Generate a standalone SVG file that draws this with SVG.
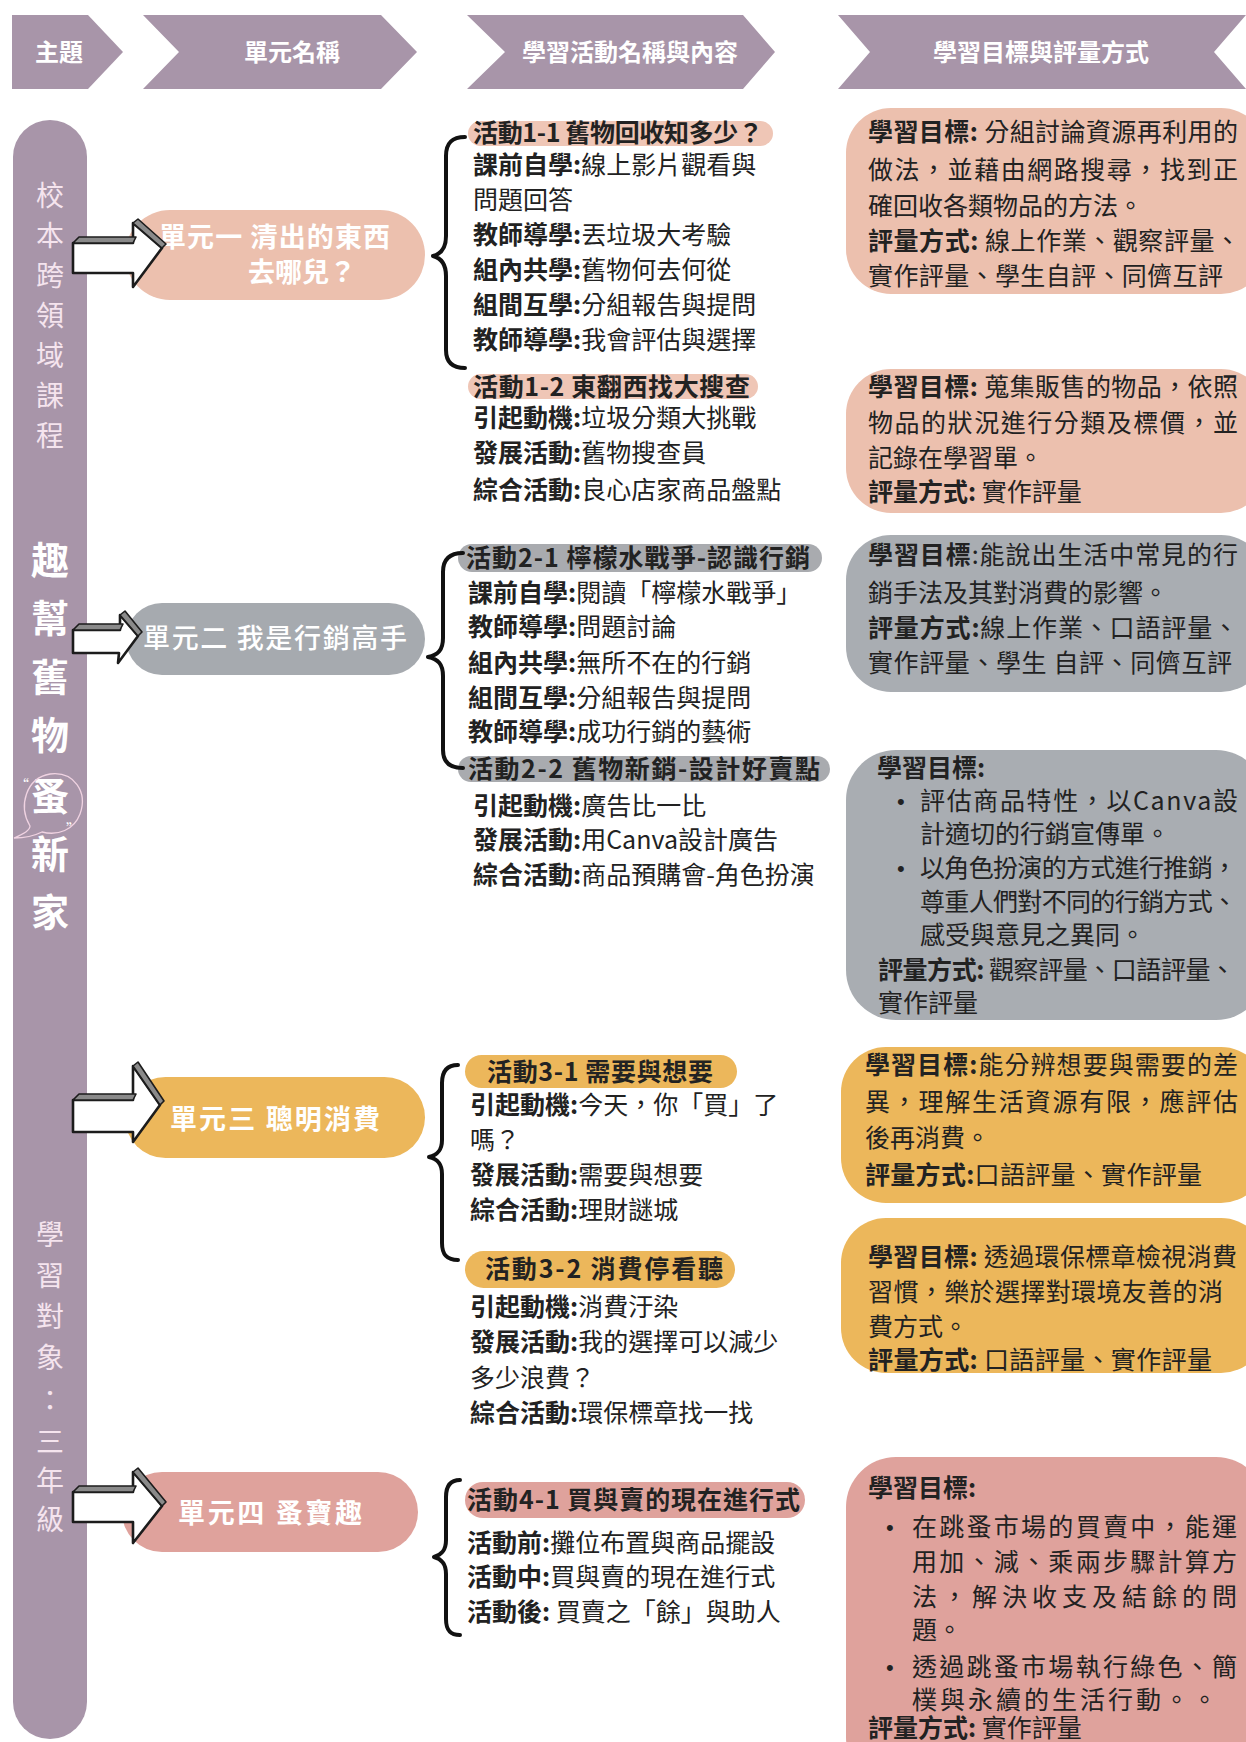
<svg xmlns="http://www.w3.org/2000/svg" width="1246" height="1742" viewBox="0 0 1246 1742">
<style>
text{font-family:'Noto Sans CJK TC','Noto Sans CJK SC',sans-serif;}
.hd{font-size:24px;font-weight:700;fill:#fff;text-anchor:middle}
.t{font-size:25px;fill:#222}
.b{font-weight:700}
.bul{font-family:'Liberation Sans',Arial,sans-serif;font-size:22px;fill:#222}
.unit{font-size:27px;font-weight:700;fill:#fff}
.bar1{font-size:28px;fill:#f5e4ee;text-anchor:middle}
.bar2{font-size:38px;font-weight:700;fill:#fff;text-anchor:middle}
.mauve{fill:#a895a9}
.peach{fill:#ecc0ae}
.gray{fill:#a9adb2}
.orange{fill:#ecb75b}
.rose{fill:#dfa29c}
.arrow{fill:#fff;stroke:#1c1c1c;stroke-width:2.6;stroke-linejoin:round}
.face{fill:#8a8a8a;stroke:#1c1c1c;stroke-width:1.6;stroke-linejoin:round}
.brace{fill:none;stroke:#111;stroke-width:4;stroke-linecap:round;stroke-linejoin:round}
</style>
<rect width="1246" height="1742" fill="#fff"/>

<g id="header">
<polygon class="mauve" points="12,15 88,15 123,52 88,89 12,89"/>
<polygon class="mauve" points="143,15 381,15 417,52 381,89 143,89 179,52"/>
<polygon class="mauve" points="467,15 743,15 775,52 743,89 467,89 505,52"/>
<polygon class="mauve" points="838,15 1246,15 1214,52 1246,89 838,89 870,52"/>
<text class="hd" x="59" y="61">主題</text>
<text class="hd" x="292" y="61">單元名稱</text>
<text class="hd" x="630" y="61">學習活動名稱與內容</text>
<text class="hd" x="1041" y="61">學習目標與評量方式</text>
</g>

<g id="theme-bar">
<rect class="mauve" x="13" y="120" width="74" height="1619" rx="37"/>
<text class="bar1"><tspan x="50" y="206">校</tspan><tspan x="50" y="246">本</tspan><tspan x="50" y="286">跨</tspan><tspan x="50" y="326">領</tspan><tspan x="50" y="366">域</tspan><tspan x="50" y="406">課</tspan><tspan x="50" y="446">程</tspan></text>
<text class="bar2"><tspan x="50" y="574">趣</tspan><tspan x="50" y="632">幫</tspan><tspan x="50" y="691">舊</tspan><tspan x="50" y="749">物</tspan><tspan x="50" y="810">蚤</tspan><tspan x="50" y="868">新</tspan><tspan x="50" y="926">家</tspan></text>
<path d="M30,826 C18,806 26,778 50,774 C74,771 88,792 80,814 C74,830 58,836 42,832 C34,836 24,838 14,838 C24,834 30,830 30,826 Z" fill="none" stroke="#f0d3e2" stroke-width="1.3"/>
<text x="22" y="790" font-size="14" fill="#fff" text-anchor="middle">“</text>
<text x="73" y="834" font-size="14" fill="#fff" text-anchor="middle">”</text>
<text class="bar1"><tspan x="50" y="1245">學</tspan><tspan x="50" y="1286">習</tspan><tspan x="50" y="1327">對</tspan><tspan x="50" y="1368">象</tspan><tspan x="50" y="1411">：</tspan><tspan x="50" y="1452">三</tspan><tspan x="50" y="1491">年</tspan><tspan x="50" y="1530">級</tspan></text>
</g>

<g id="unit1">
<rect class="peach" x="125" y="210" width="300" height="90" rx="45"/>
<text class="unit" x="159" y="247" textLength="231">單元一 清出的東西</text>
<text class="unit" x="248" y="282">去哪兒？</text>
</g>

<g id="unit2">
<rect fill="#a6aaaf" x="126" y="603" width="299" height="72" rx="36"/>
<text class="unit" style="font-weight:500" x="143" y="648" textLength="264">單元二 我是行銷高手</text>
</g>

<g id="unit3">
<rect class="orange" x="125" y="1077" width="300" height="81" rx="40.5"/>
<text class="unit" x="170" y="1129" textLength="210">單元三 聰明消費</text>
</g>

<g id="unit4">
<rect class="rose" x="122" y="1472" width="296" height="80" rx="40"/>
<text class="unit" x="178" y="1523" textLength="184">單元四 蚤寶趣</text>
</g>

<g id="activities1">
<rect fill="#efc6b6" x="468" y="121" width="305" height="25" rx="12.5"/>
<text class="t b" x="473" y="142" textLength="290">活動1-1 舊物回收知多少？</text>
<text class="t" x="473" y="174"><tspan class="b">課前自學:</tspan>線上影片觀看與</text>
<text class="t" x="473" y="209">問題回答</text>
<text class="t" x="473" y="244"><tspan class="b">教師導學:</tspan>丟垃圾大考驗</text>
<text class="t" x="473" y="279"><tspan class="b">組內共學:</tspan>舊物何去何從</text>
<text class="t" x="473" y="314"><tspan class="b">組間互學:</tspan>分組報告與提問</text>
<text class="t" x="473" y="349"><tspan class="b">教師導學:</tspan>我會評估與選擇</text>
<rect fill="#efc6b6" x="468" y="374" width="290" height="25" rx="12.5"/>
<text class="t b" x="473" y="396" textLength="277">活動1-2 東翻西找大搜查</text>
<text class="t" x="473" y="427"><tspan class="b">引起動機:</tspan>垃圾分類大挑戰</text>
<text class="t" x="473" y="462"><tspan class="b">發展活動:</tspan>舊物搜查員</text>
<text class="t" x="473" y="499"><tspan class="b">綜合活動:</tspan>良心店家商品盤點</text>
</g>

<g id="activities2">
<rect fill="#a9abaf" x="458" y="544" width="364" height="28" rx="14"/>
<text class="t b" x="466" y="567" textLength="344">活動2-1 檸檬水戰爭-認識行銷</text>
<text class="t" x="468" y="602"><tspan class="b">課前自學:</tspan>閱讀「檸檬水戰爭」</text>
<text class="t" x="468" y="636"><tspan class="b">教師導學:</tspan>問題討論</text>
<text class="t" x="468" y="672"><tspan class="b">組內共學:</tspan>無所不在的行銷</text>
<text class="t" x="468" y="707"><tspan class="b">組間互學:</tspan>分組報告與提問</text>
<text class="t" x="468" y="741"><tspan class="b">教師導學:</tspan>成功行銷的藝術</text>
<rect fill="#a9abaf" x="458" y="756" width="372" height="26" rx="13"/>
<text class="t b" x="468" y="778" textLength="352">活動2-2 舊物新銷-設計好賣點</text>
<text class="t" x="473" y="815"><tspan class="b">引起動機:</tspan>廣告比一比</text>
<text class="t" x="473" y="849"><tspan class="b">發展活動:</tspan>用Canva設計廣告</text>
<text class="t" x="473" y="884"><tspan class="b">綜合活動:</tspan>商品預購會-角色扮演</text>
</g>

<g id="activities3">
<rect class="orange" x="465" y="1055" width="272" height="33" rx="16.5"/>
<text class="t b" x="487" y="1081" textLength="226">活動3-1 需要與想要</text>
<text class="t" x="470" y="1114"><tspan class="b">引起動機:</tspan>今天，你「買」了</text>
<text class="t" x="470" y="1149">嗎？</text>
<text class="t" x="470" y="1184"><tspan class="b">發展活動:</tspan>需要與想要</text>
<text class="t" x="470" y="1219"><tspan class="b">綜合活動:</tspan>理財謎城</text>
<rect class="orange" x="465" y="1251" width="270" height="37" rx="18.5"/>
<text class="t b" x="485" y="1278" textLength="238">活動3-2  消費停看聽</text>
<text class="t" x="470" y="1316"><tspan class="b">引起動機:</tspan>消費汙染</text>
<text class="t" x="470" y="1351"><tspan class="b">發展活動:</tspan>我的選擇可以減少</text>
<text class="t" x="470" y="1387">多少浪費？</text>
<text class="t" x="470" y="1422"><tspan class="b">綜合活動:</tspan>環保標章找一找</text>
</g>

<g id="activities4">
<rect class="rose" x="465" y="1482" width="340" height="36" rx="18"/>
<text class="t b" x="467" y="1509" textLength="333">活動4-1 買與賣的現在進行式</text>
<text class="t" x="467" y="1552"><tspan class="b">活動前:</tspan>攤位布置與商品擺設</text>
<text class="t" x="467" y="1586"><tspan class="b">活動中:</tspan>買與賣的現在進行式</text>
<text class="t" x="467" y="1621"><tspan class="b">活動後:</tspan> 買賣之「餘」與助人</text>
</g>

<g id="goal1">
<rect class="peach" x="846" y="108" width="420" height="186" rx="45"/>
<text class="t" x="868" y="141" textLength="370"><tspan class="b">學習目標:</tspan> 分組討論資源再利用的</text>
<text class="t" x="868" y="179" textLength="370">做法，並藉由網路搜尋，找到正</text>
<text class="t" x="868" y="215">確回收各類物品的方法。</text>
<text class="t" x="868" y="250" textLength="372"><tspan class="b">評量方式:</tspan> 線上作業、觀察評量、</text>
<text class="t" x="868" y="285" textLength="355">實作評量、學生自評、同儕互評</text>
</g>

<g id="goal2">
<rect class="peach" x="846" y="369" width="420" height="144" rx="45"/>
<text class="t" x="868" y="396" textLength="370"><tspan class="b">學習目標:</tspan> 蒐集販售的物品，依照</text>
<text class="t" x="868" y="432" textLength="370">物品的狀況進行分類及標價，並</text>
<text class="t" x="868" y="467">記錄在學習單。</text>
<text class="t" x="868" y="501"><tspan class="b">評量方式:</tspan> 實作評量</text>
</g>

<g id="goal3">
<rect class="gray" x="846" y="535" width="420" height="157" rx="45"/>
<text class="t" x="868" y="564" textLength="370"><tspan class="b">學習目標</tspan>:能說出生活中常見的行</text>
<text class="t" x="868" y="602">銷手法及其對消費的影響。</text>
<text class="t" x="868" y="637" textLength="370"><tspan class="b">評量方式:</tspan>線上作業、口語評量、</text>
<text class="t" x="868" y="672" textLength="364">實作評量、學生 自評、同儕互評</text>
</g>

<g id="goal4">
<rect class="gray" x="846" y="750" width="420" height="270" rx="50"/>
<text class="t b" x="877" y="777">學習目標:</text>
<text class="bul" x="897" y="809">•</text>
<text class="t" x="920" y="810" textLength="318">評估商品特性，以Canva設</text>
<text class="t" x="920" y="843">計適切的行銷宣傳單。</text>
<text class="bul" x="897" y="876">•</text>
<text class="t" x="920" y="877" textLength="317">以角色扮演的方式進行推銷，</text>
<text class="t" x="920" y="911" textLength="317">尊重人們對不同的行銷方式、</text>
<text class="t" x="920" y="944">感受與意見之異同。</text>
<text class="t" x="878" y="979" textLength="357"><tspan class="b">評量方式:</tspan> 觀察評量、口語評量、</text>
<text class="t" x="878" y="1012">實作評量</text>
</g>

<g id="goal5">
<rect class="orange" x="841" y="1047" width="425" height="156" rx="45"/>
<text class="t" x="865" y="1074" textLength="373"><tspan class="b">學習目標:</tspan>能分辨想要與需要的差</text>
<text class="t" x="865" y="1111" textLength="373">異，理解生活資源有限，應評估</text>
<text class="t" x="865" y="1147">後再消費。</text>
<text class="t" x="865" y="1184" textLength="337"><tspan class="b">評量方式:</tspan>口語評量、實作評量</text>
</g>

<g id="goal6">
<rect class="orange" x="841" y="1218" width="425" height="155" rx="45"/>
<text class="t" x="868" y="1266" textLength="369"><tspan class="b">學習目標:</tspan> 透過環保標章檢視消費</text>
<text class="t" x="868" y="1301" textLength="355">習慣，樂於選擇對環境友善的消</text>
<text class="t" x="868" y="1336">費方式。</text>
<text class="t" x="868" y="1369" textLength="344"><tspan class="b">評量方式:</tspan> 口語評量、實作評量</text>
</g>

<g id="goal7">
<rect class="rose" x="846" y="1457" width="420" height="330" rx="50"/>
<text class="t b" x="868" y="1497">學習目標:</text>
<text class="bul" x="886" y="1535">•</text>
<text class="t" x="912" y="1536" font-size="26" textLength="325">在跳蚤市場的買賣中，能運</text>
<text class="t" x="912" y="1571" font-size="26" textLength="325">用加、減、乘兩步驟計算方</text>
<text class="t" x="912" y="1606" font-size="26" textLength="325">法，解決收支及結餘的問</text>
<text class="t" x="912" y="1639" font-size="26">題。</text>
<text class="bul" x="886" y="1675">•</text>
<text class="t" x="912" y="1676" font-size="26" textLength="325">透過跳蚤市場執行綠色、簡</text>
<text class="t" x="912" y="1709" font-size="26" textLength="305">樸與永續的生活行動。。</text>
<text class="t" x="868" y="1737"><tspan class="b">評量方式:</tspan> 實作評量</text>
</g>

<g id="connectors">
<polygon class="arrow" points="73,243 133,243 133,223 162,248 133,287 133,273 73,273"/>
<polygon class="face" points="73,243 79,237 136,237 133,243"/>
<polygon class="face" points="133,223 138,219 166,244 162,248"/>
<polygon class="arrow" points="73,630 120,630 120,615 138,636 118,663 119,653 73,653"/>
<polygon class="face" points="73,630 79,624 123,624 120,630"/>
<polygon class="face" points="120,615 125,611 142,632 138,636"/>
<polygon class="arrow" points="73,1100 133,1100 133,1066 160,1105 133,1142 133,1132 73,1132"/>
<polygon class="face" points="73,1100 79,1094 136,1094 133,1100"/>
<polygon class="face" points="133,1066 138,1062 164,1101 160,1105"/>
<polygon class="arrow" points="73,1492 133,1492 133,1472 162,1506 133,1543 133,1522 73,1522"/>
<polygon class="face" points="73,1492 79,1486 136,1486 133,1492"/>
<polygon class="face" points="133,1472 138,1468 166,1502 162,1506"/>
<path class="brace" d="M465,137 C452,137 446,143 446,156 L446,236 C446,248 441,254 433,256 C441,258 446,264 446,276 L446,350 C446,362 452,368 465,368"/>
<path class="brace" d="M463,553 C450,553 443,559 443,572 L443,638 C443,650 438,655 428,657 C438,659 443,664 443,676 L443,750 C443,762 450,768 463,768"/>
<path class="brace" d="M458,1065 C447,1065 442,1071 442,1083 L442,1140 C442,1151 437,1155 429,1157 C437,1159 442,1163 442,1174 L442,1243 C442,1255 447,1260 458,1260"/>
<path class="brace" d="M460,1480 C450,1480 446,1486 446,1497 L446,1540 C446,1551 441,1555 434,1557 C441,1559 446,1563 446,1574 L446,1619 C446,1630 450,1635 460,1635"/>
</g>
</svg>
